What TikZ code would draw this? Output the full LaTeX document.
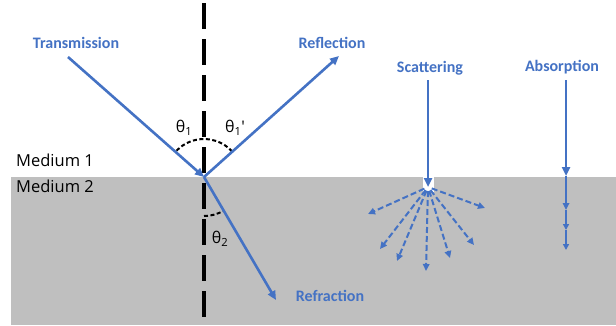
\documentclass[tikz,border=0pt]{standalone}
\usepackage{fontspec}
\setmainfont{Carlito}
\newfontfamily\medfont{Open Sans}
\usetikzlibrary{arrows.meta}
\definecolor{ablue}{HTML}{4472C4}
\definecolor{agray}{HTML}{BFBFBF}
\begin{document}
\begin{tikzpicture}[x=1pt,y=1pt,
  ray/.style={draw=ablue,line width=2.6pt,-{Triangle[length=9pt,width=8pt]}},
  scat/.style={draw=ablue,line width=2pt,dash pattern=on 6pt off 3pt,shorten <=4pt,-{Triangle[length=7pt,width=6.5pt]}},
  lbl/.style={text=ablue,font=\fontsize{16}{18}\selectfont\bfseries,inner sep=0pt},
  med/.style={font=\medfont\fontsize{16.5}{18}\selectfont,inner sep=0pt,anchor=west},
  ang/.style={font=\medfont\fontsize{16}{18}\selectfont,inner sep=0pt},
  arcline/.style={draw=black,line width=2pt,dash pattern=on 4pt off 2.5pt}]
\useasboundingbox (0,0) rectangle (616,-325);
\fill[white] (0,0) rectangle (616,-325);
\fill[agray] (11,-177) rectangle (616,-325);
% medium labels
\node[med] (m1) at (16,-160) {Medium 1};
\node[med] (m2) at (16,-186) {Medium 2};
% coordinates
\coordinate (O) at (204,-177);
\coordinate (src) at (68,-57);
\coordinate (refl) at (339,-56);
\coordinate (refr) at (276,-300);
\coordinate (ntop) at (204,-3);
\coordinate (nbot) at (204,-318);
% normal
\draw[line width=3.5pt,dash pattern=on 26pt off 10pt] (ntop) -- (nbot);
% angle arcs
\draw[arcline] ([shift={(42:38)}]O) arc (42:138:38);
\draw[arcline] ([shift={(270:39)}]O) arc (270:300:39);
% rays
\draw[ray] (src) -- (O);
\draw[ray] (O) -- (refl);
\draw[ray] (O) -- (refr);
% labels
\node[lbl] (tr) at (76,-43) {Transmission};
\node[lbl] (rf) at (332,-43) {Reflection};
\node[lbl] (rr) at (330,-296) {Refraction};
\node[lbl] (sc) at (430,-68) {Scattering};
\node[lbl] (ab) at (562,-67) {Absorption};
\node[ang] (t1) at (184,-128) {θ\textsubscript{1}};
\node[ang] (t1p) at (235,-128) {θ\textsubscript{1}'};
\node[ang] (t2) at (220,-239) {θ\textsubscript{2}};
% scattering
\coordinate (s0) at (428,-80);
\coordinate (s1) at (428,-187);
\fill[white] (422.5,-177) rectangle (433.5,-192);
\draw[ray] (s0) -- (s1);
\coordinate (sc0) at (428,-187);
\foreach \i/\x/\y in {1/368/214,2/380/249,3/397/261,4/426/271,5/450/258,6/474/245,7/485/208}{
  \coordinate (e\i) at (\x,-\y);
  \draw[scat] (sc0) -- (e\i);
}
% absorption
\coordinate (a0) at (566,-80);
\coordinate (a1) at (566,-176);
\coordinate (a2) at (566,-210);
\coordinate (a3) at (566,-230);
\coordinate (a4) at (566,-250);
\draw[ray] (a0) -- (a1);
\draw[draw=ablue,line width=1.6pt,-{Triangle[length=7pt,width=6.5pt]}] (a1) -- (a2);
\draw[draw=ablue,line width=1.6pt,-{Triangle[length=6pt,width=6pt]}] (a2) -- (a3);
\draw[draw=ablue,line width=1.6pt,-{Triangle[length=6pt,width=6pt]}] (a3) -- (a4);
\end{tikzpicture}
\end{document}
